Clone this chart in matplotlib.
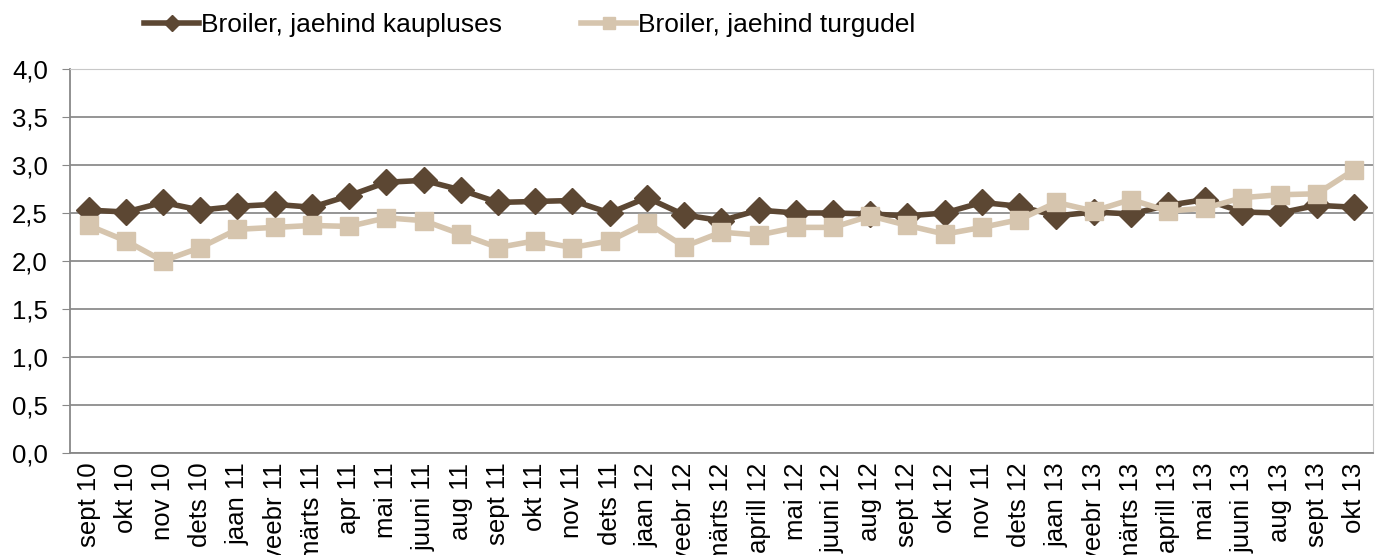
import matplotlib
matplotlib.use('Agg')
import matplotlib.pyplot as plt
import numpy as np

plt.rcParams['font.family'] = ['Liberation Sans', 'DejaVu Sans']

# kuud (telje sildid nagu tabelis)
months = ['sept 10', 'okt 10', 'nov 10', 'dets 10', 'jaan 11', 'veebr 11', 'märts 11',
          'apr 11', 'mai 11', 'juuni 11', 'aug 11', 'sept 11', 'okt 11', 'nov 11',
          'dets 11', 'jaan 12', 'veebr 12', 'märts 12', 'aprill 12', 'mai 12',
          'juuni 12', 'aug 12', 'sept 12', 'okt 12', 'nov 11', 'dets 12', 'jaan 13',
          'veebr 13', 'märts 13', 'aprill 13', 'mai 13', 'juuni 13', 'aug 13',
          'sept 13', 'okt 13']

# jaehind kauplustes
kaupluses = [2.53, 2.51, 2.61, 2.53, 2.57, 2.59, 2.56, 2.68, 2.82, 2.84, 2.74, 2.61,
             2.62, 2.63, 2.50, 2.66, 2.48, 2.42, 2.53, 2.50, 2.50, 2.49, 2.47, 2.50,
             2.61, 2.57, 2.47, 2.51, 2.49, 2.58, 2.64, 2.51, 2.50, 2.58, 2.56]

# jaehind turgudel
turgudel = [2.37, 2.21, 2.00, 2.14, 2.33, 2.35, 2.37, 2.36, 2.45, 2.42, 2.28, 2.14,
            2.21, 2.14, 2.21, 2.40, 2.15, 2.30, 2.27, 2.35, 2.35, 2.47, 2.37, 2.28,
            2.35, 2.43, 2.61, 2.52, 2.64, 2.52, 2.55, 2.66, 2.69, 2.70, 2.95]

dark = '#5c4733'
light = '#d6c5ae'

fig = plt.figure(figsize=(13.83, 5.55), dpi=100)
ax = fig.add_axes([0.0506, 0.1838, 0.942, 0.6919])

x = np.arange(len(months))
ax.plot(x, kaupluses, color=dark, lw=4, marker='D', ms=13, label='Broiler, jaehind kaupluses', zorder=3)
ax.plot(x, turgudel, color=light, lw=4, marker='s', ms=13.5, label='Broiler, jaehind turgudel', zorder=4)

ax.set_xlim(-0.5, len(months) - 0.5)
ax.set_ylim(0, 4)
ax.set_yticks(np.arange(0, 4.01, 0.5))
ax.set_yticklabels([f'{v:.1f}'.replace('.', ',') for v in np.arange(0, 4.01, 0.5)], fontsize=18.5)
ax.set_xticks(x)
ax.set_xticklabels(months, rotation=90, fontsize=18.5)
ax.tick_params(axis='x', length=0, pad=7)
ax.tick_params(axis='y', length=6, color='#888888', pad=10)

ax.grid(axis='y', color='#8c8c8c', lw=1.3)
ax.set_axisbelow(True)
for s in ['top', 'right']:
    ax.spines[s].set_color('#c8c8c8')
for s in ['left', 'bottom']:
    ax.spines[s].set_color('#888888')
    ax.spines[s].set_linewidth(1.3)

fig.legend(loc='center left', bbox_to_anchor=(0.087, 0.955), ncol=2, frameon=False,
           fontsize=19, handlelength=2.1, handletextpad=0.05, columnspacing=3.0,
           markerscale=0.6)

fig.savefig('out.png', dpi=100)
